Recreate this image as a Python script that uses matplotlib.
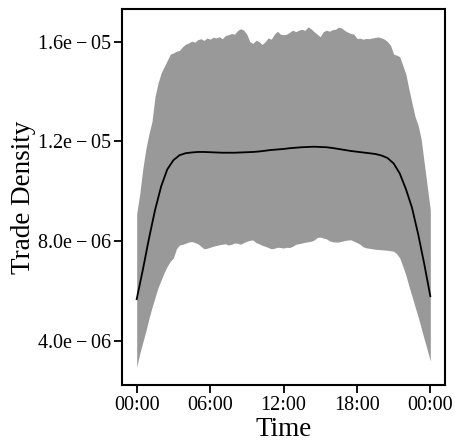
import numpy as np
import matplotlib
matplotlib.use("Agg")
import matplotlib.pyplot as plt

plt.rcParams['font.family'] = ['Liberation Serif', 'DejaVu Serif']
plt.rcParams['mathtext.fontset'] = 'custom'
plt.rcParams['mathtext.rm'] = 'Liberation Serif'

# hours of day on a quarter-hour grid for the band
band_hours = np.arange(0, 24.25, 0.25)
upper = [9.1, 9.9, 10.9, 11.7, 12.3, 12.8, 13.8, 14.35, 14.75, 15.0, 15.25, 15.5,
         15.55, 15.62, 15.65, 15.8, 15.9, 15.95, 16.02, 15.98, 16.08, 16.12, 16.05, 16.15,
         16.1, 16.18, 16.15, 16.2, 16.12, 16.25, 16.28, 16.33, 16.3, 16.45, 16.52, 16.46,
         16.3, 16.0, 15.93, 16.06, 16.0, 15.89, 16.0, 16.15, 16.1, 16.3, 16.42, 16.3,
         16.28, 16.3, 16.38, 16.46, 16.4, 16.46, 16.5, 16.45, 16.59, 16.52, 16.4, 16.3,
         16.2, 16.4, 16.46, 16.42, 16.48, 16.5, 16.58, 16.55, 16.45, 16.38, 16.33, 16.3,
         16.13, 16.14, 16.1, 16.13, 16.12, 16.15, 16.17, 16.19, 16.15, 16.1, 16.0, 15.85,
         15.5, 15.46, 15.4, 15.05, 14.7, 14.1, 13.55, 13.0, 12.65, 12.1, 11.15, 10.2, 9.25]
lower = [2.95, 3.5, 3.95, 4.4, 4.9, 5.35, 5.75, 6.15, 6.45, 6.75, 7.0, 7.2,
         7.33, 7.7, 7.85, 7.88, 7.92, 7.97, 7.99, 7.95, 7.9, 7.8, 7.7, 7.72,
         7.76, 7.8, 7.83, 7.86, 7.88, 7.9, 7.85, 7.88, 7.93, 7.92, 7.88, 7.95,
         8.0, 8.04, 8.05, 7.95, 7.9, 7.84, 7.8, 7.75, 7.7, 7.72, 7.76, 7.75,
         7.73, 7.76, 7.75, 7.8, 7.88, 7.9, 7.93, 7.96, 7.98, 8.0, 8.05, 8.15,
         8.17, 8.13, 8.1, 8.02, 7.98, 7.97, 7.97, 8.0, 8.03, 8.05, 8.06, 8.0,
         7.95, 7.88, 7.78, 7.74, 7.72, 7.7, 7.68, 7.67, 7.66, 7.65, 7.64, 7.62,
         7.6, 7.5, 7.33, 7.0, 6.65, 6.2, 5.8, 5.38, 4.98, 4.53, 4.08, 3.65, 3.2]

# mean density on a half-hour grid
line_hours = np.arange(0, 24.5, 0.5)
mean = [5.68, 6.85, 8.1, 9.25, 10.2, 10.88, 11.25, 11.45, 11.53, 11.56, 11.58, 11.58,
        11.57, 11.56, 11.55, 11.55, 11.55, 11.56, 11.57, 11.58, 11.6, 11.63, 11.66, 11.68,
        11.7, 11.73, 11.75, 11.77, 11.78, 11.79, 11.78, 11.77, 11.74, 11.7, 11.66, 11.62,
        11.59, 11.56, 11.53, 11.5, 11.44, 11.34, 11.12, 10.72, 10.1, 9.35, 8.3, 7.1, 5.8]

xticks = [0, 6, 12, 18, 24]
xtick_labels = ["00:00", "06:00", "12:00", "18:00", "00:00"]
yticks = [4.0e-6, 8.0e-6, 1.2e-5, 1.6e-5]
ytick_labels = [r"$\mathregular{4.0e-06}$", r"$\mathregular{8.0e-06}$",
                r"$\mathregular{1.2e-05}$", r"$\mathregular{1.6e-05}$"]

scale = 1e-6
fig = plt.figure(figsize=(4.55, 4.41), dpi=100)
ax = fig.add_axes([122/455, 56/441, 323/455, 376/441])

ax.fill_between(band_hours, np.array(lower)*scale, np.array(upper)*scale,
                color='#999999', linewidth=0)
ax.plot(line_hours, np.array(mean)*scale, color='black', linewidth=1.3)

ax.set_xlim(-1.2, 25.2)
ax.set_ylim(2.24e-6, 1.731e-5)
ax.set_xticks(xticks)
ax.set_xticklabels(xtick_labels)
ax.set_yticks(yticks)
ax.set_yticklabels(ytick_labels)

for s in ax.spines.values():
    s.set_linewidth(1.5)
ax.tick_params(axis='both', length=5.8, width=1.3, labelsize=14.5, colors='black')
ax.tick_params(axis='y', pad=1.5)
ax.tick_params(axis='x', pad=2)

ax.set_xlabel("Time", fontsize=19.5, labelpad=1.5)
ax.set_ylabel("Trade Density", fontsize=19.5, labelpad=1)

fig.savefig("out.png", dpi=100)
